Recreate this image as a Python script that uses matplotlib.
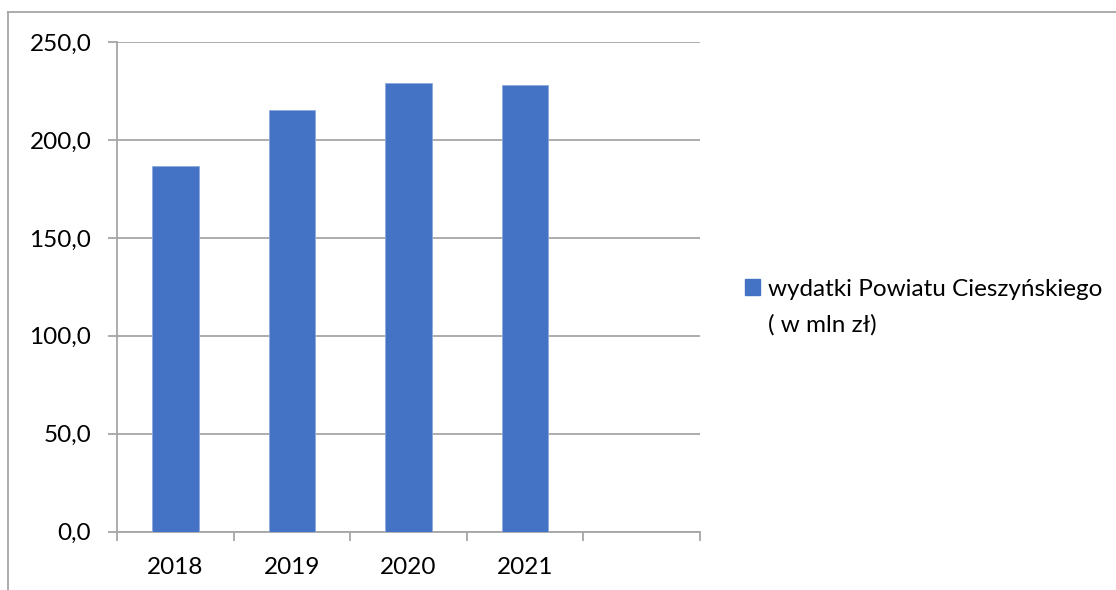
import matplotlib
matplotlib.use("Agg")
import matplotlib.pyplot as plt
from matplotlib.lines import Line2D
from matplotlib.patches import Patch

years = ["2018", "2019", "2020", "2021", ""]
spending = [186.9, 215.5, 229.1, 228.1, None]
y_ticks = [0, 50, 100, 150, 200, 250]
y_labels = ["0,0", "50,0", "100,0", "150,0", "200,0", "250,0"]
legend_label = "wydatki Powiatu Cieszyńskiego"
legend_label2 = "( w mln zł)"

plt.rcParams["font.family"] = ["Lato", "DejaVu Sans"]
grid_col = "#a6a6a6"
bar_col = "#4472c4"
fs = 17.5

fig = plt.figure(figsize=(11.16, 5.9), dpi=100)
ax = fig.add_axes([0.1048, 0.0988, 0.5225, 0.83])

xs = [i for i, v in enumerate(spending) if v is not None]
vals = [v for v in spending if v is not None]
ax.bar(xs, vals, width=0.4, color=bar_col, edgecolor="#8faadc", linewidth=0.6, zorder=3)

ax.set_xlim(-0.5, len(years) - 0.5)
ax.set_ylim(0, 250)
ax.set_yticks(y_ticks)
ax.set_yticklabels(y_labels, fontsize=fs)
ax.yaxis.grid(True, color=grid_col, linewidth=1.3, zorder=0)

# category boundaries as ticks, labels in the middle
ax.set_xticks([i - 0.5 for i in range(len(years) + 1)])
ax.set_xticklabels([])
ax.set_xticks(range(len(years)), minor=True)
ax.set_xticklabels(years, minor=True, fontsize=fs)
ax.tick_params(axis="x", which="major", length=6.5, color=grid_col, width=1.3)
ax.tick_params(axis="x", which="minor", length=0, pad=18)
ax.tick_params(axis="y", length=6.5, color=grid_col, width=1.3, pad=12)

for s in ["top", "right"]:
    ax.spines[s].set_visible(False)
for s in ["left", "bottom"]:
    ax.spines[s].set_color(grid_col)
    ax.spines[s].set_linewidth(1.3)

# legend: marker sits on the first line, second line wraps underneath
handle = Patch(facecolor=bar_col, edgecolor=bar_col)
leg = fig.legend([handle], [legend_label], loc="center left", bbox_to_anchor=(0.659, 0.51),
                 frameon=False, fontsize=fs, handlelength=0.6, handleheight=0.6,
                 handletextpad=0.35, borderaxespad=0)
fig.canvas.draw()
bb = leg.get_texts()[0].get_window_extent().transformed(fig.transFigure.inverted())
fig.text(bb.x0, bb.y0 - 0.061, legend_label2, fontsize=fs, ha="left", va="bottom")

# chart frame (partly cropped)
fig.add_artist(Line2D([0.0072, 1.0], [0.979, 0.979], color=grid_col, linewidth=1.3))
fig.add_artist(Line2D([0.0072, 0.0072], [0.0, 0.979], color=grid_col, linewidth=1.3))

fig.savefig("out.png", dpi=100)
